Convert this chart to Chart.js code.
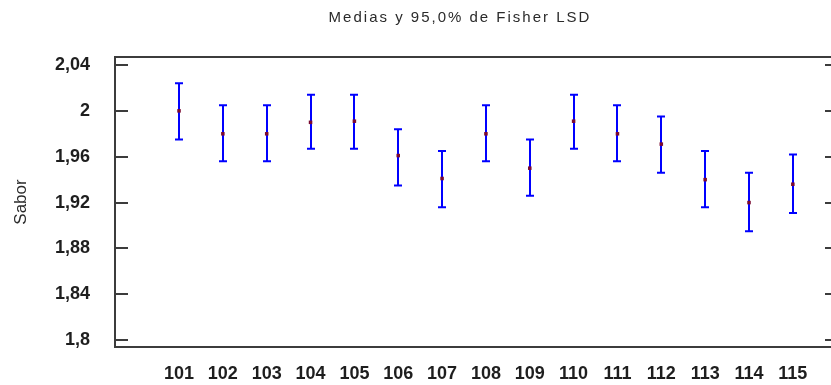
<!DOCTYPE html>
<html>
<head>
<meta charset="utf-8">
<script src="https://cdn.jsdelivr.net/npm/chart.js@4"></script>
<style>
  html, body { margin: 0; padding: 0; background: #fff; overflow: hidden; }
</style>
</head>
<body>
<canvas id="lsdChart" width="845" height="385"></canvas>
<script>
const categories = ['101', '102', '103', '104', '105', '106', '107', '108', '109', '110', '111', '112', '113', '114', '115'];
const means = [2.0, 1.98, 1.98, 1.99, 1.991, 1.961, 1.941, 1.98, 1.95, 1.991, 1.98, 1.971, 1.94, 1.92, 1.936];
const upper = [2.024, 2.005, 2.005, 2.014, 2.014, 1.984, 1.965, 2.005, 1.975, 2.014, 2.005, 1.995, 1.965, 1.946, 1.962];
const lower = [1.975, 1.956, 1.956, 1.967, 1.967, 1.935, 1.916, 1.956, 1.926, 1.967, 1.956, 1.946, 1.916, 1.895, 1.911];
const yTicks = [1.8, 1.84, 1.88, 1.92, 1.96, 2, 2.04];
const titleText = 'Medias y 95,0% de Fisher LSD';
const yTitle = 'Sabor';

const FONT = '"Liberation Sans", Arial, sans-serif';
const points = categories.map((c, i) => ({ x: Number(c), y: means[i] }));
const comma = v => String(Number(v.toFixed(2))).replace('.', ',');

// blue LSD intervals, drawn under the mean markers
const errorBars = {
  id: 'errorBars',
  beforeDatasetsDraw(chart) {
    const { ctx, scales: { x, y } } = chart;
    ctx.save();
    ctx.strokeStyle = '#0000ff';
    ctx.lineWidth = 2;
    categories.forEach((c, i) => {
      const px = Math.round(x.getPixelForValue(Number(c)));
      const top = y.getPixelForValue(upper[i]);
      const bot = y.getPixelForValue(lower[i]);
      ctx.beginPath();
      ctx.moveTo(px, top); ctx.lineTo(px, bot);
      ctx.moveTo(px - 4, top); ctx.lineTo(px + 4, top);
      ctx.moveTo(px - 4, bot); ctx.lineTo(px + 4, bot);
      ctx.stroke();
    });
    ctx.restore();
  }
};

// box round the plot, inward ticks, spaced title
const frame = {
  id: 'frame',
  afterDraw(chart) {
    const { ctx, chartArea: a, scales: { y } } = chart;
    ctx.save();
    ctx.strokeStyle = '#3c3c3c';
    ctx.lineWidth = 2;
    ctx.strokeRect(a.left, a.top, a.right - a.left, a.bottom - a.top);
    ctx.beginPath();
    yTicks.forEach(v => {
      const py = Math.round(y.getPixelForValue(v));
      ctx.moveTo(a.left, py); ctx.lineTo(a.left + 13, py);
      ctx.moveTo(a.right - 13, py); ctx.lineTo(a.right, py);
    });
    ctx.stroke();

    ctx.fillStyle = '#2a2a2a';
    ctx.font = '15px ' + FONT;
    ctx.letterSpacing = '2px';
    ctx.textAlign = 'center';
    ctx.textBaseline = 'middle';
    ctx.fillText(titleText, 460, 18);
    ctx.restore();
  }
};

new Chart(document.getElementById('lsdChart'), {
  type: 'scatter',
  data: {
    datasets: [{
      data: points,
      pointStyle: 'rect',
      pointRadius: 2.5,
      backgroundColor: '#7a0a30',
      borderWidth: 0
    }]
  },
  options: {
    responsive: false,
    animation: false,
    layout: { padding: { top: 57, right: 7, left: 0, bottom: 0 } },
    plugins: {
      legend: { display: false },
      tooltip: { enabled: false }
    },
    scales: {
      x: {
        type: 'linear',
        min: 99.54,
        max: 116.03,
        grid: { display: false, drawTicks: false },
        border: { display: false },
        afterBuildTicks: s => { s.ticks = categories.map(c => ({ value: Number(c) })); },
        afterFit: s => { s.height = 38; },
        ticks: {
          padding: 16,
          color: '#1e1e1e',
          autoSkip: false,
          maxRotation: 0,
          font: { family: FONT, size: 18, weight: 'bold' },
          callback: (v, i) => categories[i]
        }
      },
      y: {
        min: 1.794,
        max: 2.047,
        grid: { display: false, drawTicks: false },
        border: { display: false },
        afterBuildTicks: s => { s.ticks = yTicks.map(v => ({ value: v })); },
        afterFit: s => { s.width = 115; },
        ticks: {
          padding: 25,
          color: '#1e1e1e',
          font: { family: FONT, size: 18, weight: 'bold' },
          callback: v => comma(v)
        },
        title: {
          display: true,
          text: yTitle,
          color: '#2a2a2a',
          padding: { top: 11, bottom: 0 },
          font: { family: FONT, size: 17 }
        }
      }
    }
  },
  plugins: [errorBars, frame]
});
</script>
</body>
